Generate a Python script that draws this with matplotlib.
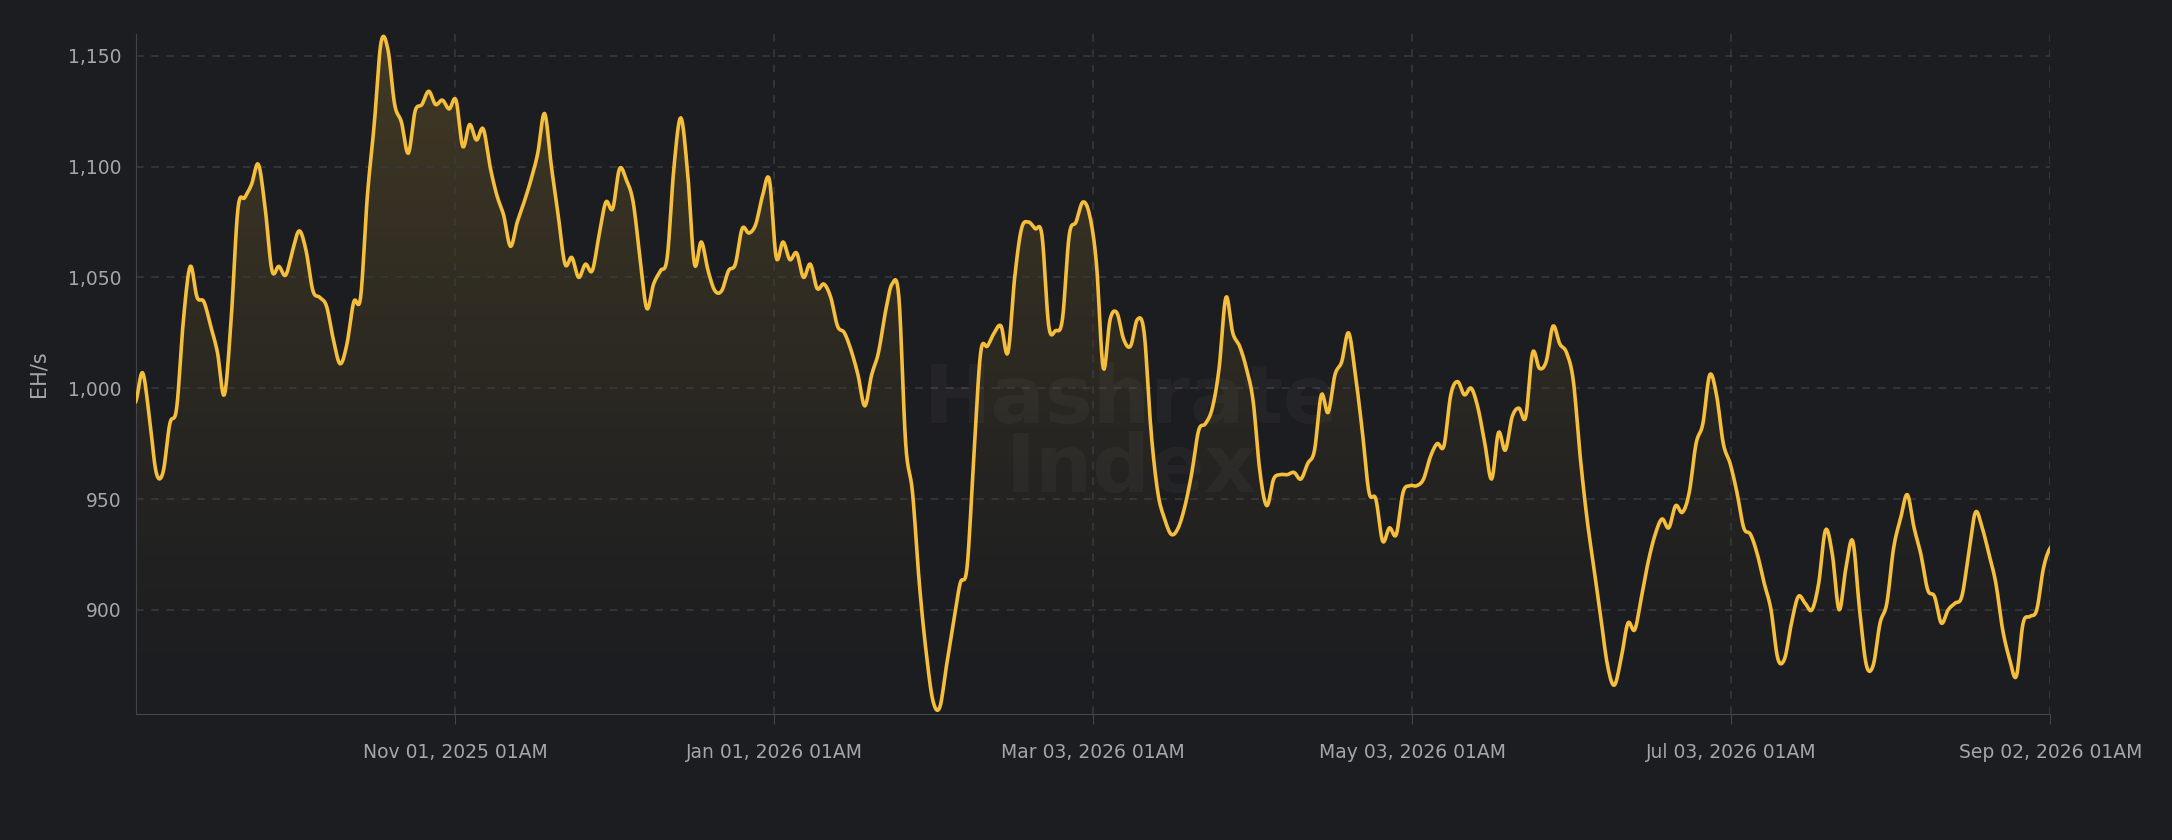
import numpy as np
import pandas as pd
import matplotlib
matplotlib.use("Agg")
import matplotlib.pyplot as plt
import matplotlib.dates as mdates
from matplotlib.patches import PathPatch
from matplotlib.path import Path

values = [994,1007,987,962,962,984,991,1031,1055,1041,1039,1028,1016,997,1031,1081,1086,1092,1101,1081,
1053,1055,1051,1062,1071,1062,1044,1041,1037,1022,1011,1020,1039,1041,1087,1119,1156,1153,1128,1120,
1106,1125,1128,1134,1128,1130,1126,1130,1109,1119,1112,1117,1100,1087,1078,1064,1075,1084,1094,1106,
1124,1100,1078,1056,1059,1050,1056,1053,1069,1084,1081,1099,1094,1084,1059,1036,1047,1053,1059,1100,
1122,1097,1056,1066,1053,1044,1044,1053,1056,1072,1070,1074,1087,1094,1059,1066,1058,1061,1050,1056,
1045,1047,1041,1028,1025,1017,1006,992,1006,1016,1034,1047,1041,975,953,912,881,859,856,875,
894,912,919,969,1016,1019,1025,1028,1016,1050,1072,1075,1072,1069,1028,1026,1031,1069,1075,1084,
1078,1056,1009,1031,1034,1022,1019,1031,1025,981,953,941,934,937,947,962,981,984,991,1009,
1041,1025,1019,1009,994,962,947,959,961,961,962,959,966,972,997,989,1006,1012,1025,1006,
981,953,950,931,937,934,953,956,956,959,969,975,974,997,1003,997,1000,991,975,959,
980,972,987,991,987,1016,1009,1012,1028,1020,1016,1003,969,941,919,897,875,866,878,894,
891,906,922,934,941,937,947,944,953,975,984,1006,997,975,966,953,937,934,925,912,
900,878,878,894,906,903,900,912,936,925,900,919,931,900,875,875,894,903,928,941,
952,937,925,909,906,894,900,903,906,925,944,937,925,912,891,878,870,894,897,900,
919,928]
start, end = pd.Timestamp("2025-09-01"), pd.Timestamp("2026-09-02 01:00")
dates = pd.date_range(start, end, periods=len(values))
tick_dates = pd.to_datetime(["2025-11-01 01:00","2026-01-01 01:00","2026-03-03 01:00",
                             "2026-05-03 01:00","2026-07-03 01:00","2026-09-02 01:00"])
tick_labels = ["Nov 01, 2025 01AM","Jan 01, 2026 01AM","Mar 03, 2026 01AM",
               "May 03, 2026 01AM","Jul 03, 2026 01AM","Sep 02, 2026 01AM"]
yticks = [900, 950, 1000, 1050, 1100, 1150]

bg = "#1c1d20"
line_c = "#f5be3b"
fig = plt.figure(figsize=(21.72, 8.4), dpi=100, facecolor=bg)
ax = fig.add_axes([0.0625, 0.15, 0.8815, 0.81], facecolor=bg)
ymin, ymax = 853, 1160
x = mdates.date2num(dates)
y = np.array(values, dtype=float)

# Catmull-Rom smoothing (curve through data points)
n_sub = 8
t = np.linspace(0, 1, n_sub, endpoint=False)
xs, ys = [], []
P = np.concatenate([[y[0]], y, [y[-1]]])
X = np.concatenate([[x[0] - (x[1] - x[0])], x, [x[-1] + (x[-1] - x[-2])]])
for i in range(1, len(P) - 2):
    for arr, out in ((P, ys), (X, xs)):
        p0, p1, p2, p3 = arr[i - 1], arr[i], arr[i + 1], arr[i + 2]
        out.extend(0.5 * ((2 * p1) + (-p0 + p2) * t + (2 * p0 - 5 * p1 + 4 * p2 - p3) * t**2
                          + (-p0 + 3 * p1 - 3 * p2 + p3) * t**3))
xs.append(x[-1]); ys.append(y[-1])
xs, ys = np.array(xs), np.array(ys)

ax.set_xlim(x[0], x[-1])
ax.set_ylim(ymin, ymax)

verts = [(xs[0], ymin)] + list(zip(xs, ys)) + [(xs[-1], ymin)]
poly = PathPatch(Path(verts), facecolor="none", edgecolor="none")
ax.add_patch(poly)
g = np.linspace(0, 1, 256)
rgba = np.zeros((256, 1, 4))
rgba[:, 0, 0], rgba[:, 0, 1], rgba[:, 0, 2] = 0.96, 0.75, 0.23
rgba[:, 0, 3] = (g ** 1.3) * 0.18
im = ax.imshow(rgba, extent=[x[0], x[-1], ymin, ys.max()], origin="lower",
               aspect="auto", zorder=1)
im.set_clip_path(poly)

ax.plot(xs, ys, color=line_c, lw=2.6, zorder=3, solid_joinstyle="round")

ax.text(0.52, 0.41, "Hashrate\nIndex", transform=ax.transAxes, fontsize=58, fontweight="bold",
        color="#ffffff", alpha=0.035, ha="center", va="center", linespacing=0.85, zorder=2)

ax.set_yticks(yticks)
ax.set_yticklabels([f"{v:,}" for v in yticks])
ax.set_xticks(mdates.date2num(tick_dates))
ax.set_xticklabels(tick_labels)
ax.grid(True, color="#3a3b3f", linestyle=(0, (5, 5)), lw=1.1)
ax.tick_params(axis="both", colors="#a5a6a9", labelsize=13.5)
ax.tick_params(axis="y", length=0, pad=10)
ax.tick_params(axis="x", length=7, color="#44454a", pad=14)
for s in ["top", "right"]:
    ax.spines[s].set_visible(False)
for s in ["left", "bottom"]:
    ax.spines[s].set_color("#44454a")
ax.set_ylabel("EH/s", color="#a5a6a9", fontsize=15, labelpad=14)
fig.savefig("out.png", facecolor=bg)
